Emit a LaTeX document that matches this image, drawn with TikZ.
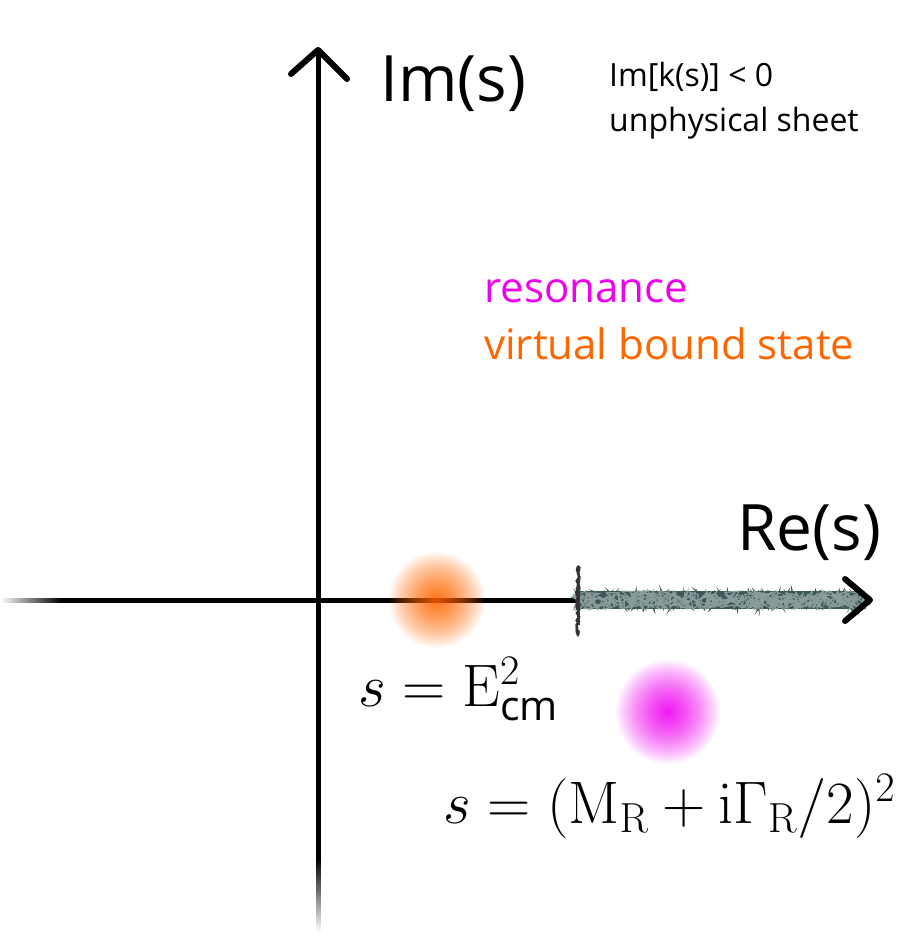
\RequirePackage{fix-cm}
\documentclass[tikz,border=0pt]{standalone}
\usepackage[no-math]{fontspec}
\setmainfont{Open Sans}
\setsansfont{Open Sans}
\usetikzlibrary{decorations.pathmorphing,fadings}
\definecolor{cutcol}{RGB}{58,88,86}
\definecolor{blobor}{RGB}{255,102,0}
\definecolor{blobmag}{RGB}{238,0,238}
\definecolor{txtmag}{RGB}{238,0,238}
\definecolor{txtor}{RGB}{255,102,0}
\tikzfading[name=fadeleft, left color=transparent!100, right color=transparent!0]
\tikzfading[name=fadedown, top color=transparent!0, bottom color=transparent!100]
\newcommand{\cmsub}{\hbox{\fontsize{41}{41}\selectfont cm}}
\tikzset{
  axisline/.style={line width=5pt, black},
  arrowhd/.style={line width=6pt, black, line cap=round, line join=round},
  bigtxt/.style={inner sep=0pt, font=\fontsize{64}{70}\selectfont},
  smalltxt/.style={inner sep=0pt, font=\fontsize{32}{36}\selectfont},
  midtxt/.style={inner sep=0pt, font=\fontsize{42}{48}\selectfont},
  mathtxt/.style={inner sep=0pt, font=\fontsize{60}{64}\selectfont},
}
\begin{document}
\begin{tikzpicture}[x=1pt,y=-1pt]
\useasboundingbox (0,0) rectangle (919,936);
% coordinates
\coordinate (origin) at (318,600);
\coordinate (xfade) at (60,600);
\coordinate (xtip) at (870,600);
\coordinate (ytip) at (318,50);
\coordinate (yfade) at (318,860);
\coordinate (cutstart) at (579,600);
\coordinate (cutend) at (864,600);
\coordinate (orc) at (437,600);
\coordinate (magc) at (668,712);
% axes
\fill[black, path fading=fadeleft] (0,597.5) rectangle (61,602.5);
\draw[axisline] (xfade) -- (xtip);
\fill[black, path fading=fadedown] (315.5,859) rectangle (320.5,932);
\draw[axisline] (yfade) -- (ytip);
% branch cut
\pgfmathsetseed{7}
\fill[cutcol] (579,591) rectangle (864,609);
\foreach \k in {1,...,12}{
  \draw[cutcol, line width=2.2pt, decorate, decoration={random steps, segment length=2.5pt, amplitude=7pt}] (cutstart) -- (cutend);
}
\foreach \k in {1,...,4}{
  \draw[cutcol!60!white, line width=1.2pt, decorate, decoration={random steps, segment length=2pt, amplitude=9pt}] (cutstart) -- (cutend);
}
\foreach \k in {1,...,4}{
  \draw[black!80, line width=1.8pt, decorate, decoration={random steps, segment length=3pt, amplitude=1.8pt}] (578,566) -- (578,636);
}
% arrow heads
\draw[arrowhd] (845,579) -- (xtip) -- (845,621);
\draw[arrowhd] (291,74) -- (ytip) -- (347,79);
% blobs
\foreach \i in {1,...,60}{
  \pgfmathsetmacro{\rr}{48*(\i/60)^2}
  \fill[blobor, opacity=0.045] (orc) circle (\rr);
}
\foreach \i in {1,...,60}{
  \pgfmathsetmacro{\rr}{52*(\i/60)^2}
  \fill[blobmag, opacity=0.045] (magc) circle (\rr);
}
% labels
\node[bigtxt, anchor=base west] (imlab) at (380,102) {Im(s)};
\node[bigtxt, anchor=base west] (relab) at (737,550) {Re(s)};
\node[smalltxt, anchor=base west] (imk) at (609,87) {Im[k(s)] < 0};
\node[smalltxt, anchor=base west] (unph) at (609,132) {unphysical sheet};
\node[midtxt, anchor=base west, text=txtmag] (reso) at (484,302) {resonance};
\node[midtxt, anchor=base west, text=txtor] (vbs) at (484,359) {virtual bound state};
\node[mathtxt, anchor=base west] (ecm) at (358,706) {$s=\mathrm{E}^2_{\cmsub}$};
\node[mathtxt, anchor=base west] (mr) at (443,823) {$s=(\mathrm{M}_\mathrm{R}+\mathrm{i}\Gamma_\mathrm{R}/2)^2$};
\end{tikzpicture}
\end{document}
